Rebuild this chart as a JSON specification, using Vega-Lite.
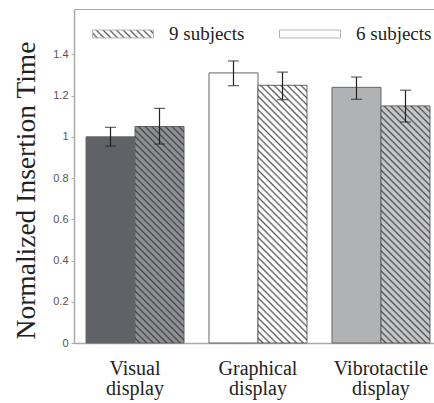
{
  "$schema": "https://vega.github.io/schema/vega-lite/v6.json",
  "width": 360,
  "height": 334,
  "autosize": {"type": "none"},
  "padding": {"left": 74, "top": 9, "right": 0, "bottom": 60},
  "background": "white",
  "params": [
    {"name": "c0", "value": "rgba(51,51,51,0)"},
    {"name": "c1", "value": "rgba(51,51,51,0.8)"},
    {"name": "stops", "expr": "[{offset:0,color:c0},{offset:0.009,color:c0},{offset:0.015,color:c1},{offset:0.02,color:c0},{offset:0.029,color:c0},{offset:0.035,color:c1},{offset:0.04,color:c0},{offset:0.049,color:c0},{offset:0.055,color:c1},{offset:0.06,color:c0},{offset:0.069,color:c0},{offset:0.075,color:c1},{offset:0.08,color:c0},{offset:0.089,color:c0},{offset:0.095,color:c1},{offset:0.1,color:c0},{offset:0.109,color:c0},{offset:0.115,color:c1},{offset:0.12,color:c0},{offset:0.129,color:c0},{offset:0.135,color:c1},{offset:0.14,color:c0},{offset:0.149,color:c0},{offset:0.155,color:c1},{offset:0.16,color:c0},{offset:0.169,color:c0},{offset:0.175,color:c1},{offset:0.18,color:c0},{offset:0.189,color:c0},{offset:0.195,color:c1},{offset:0.2,color:c0},{offset:0.209,color:c0},{offset:0.215,color:c1},{offset:0.22,color:c0},{offset:0.229,color:c0},{offset:0.235,color:c1},{offset:0.24,color:c0},{offset:0.249,color:c0},{offset:0.255,color:c1},{offset:0.26,color:c0},{offset:0.269,color:c0},{offset:0.275,color:c1},{offset:0.28,color:c0},{offset:0.289,color:c0},{offset:0.295,color:c1},{offset:0.3,color:c0},{offset:0.309,color:c0},{offset:0.315,color:c1},{offset:0.32,color:c0},{offset:0.329,color:c0},{offset:0.335,color:c1},{offset:0.34,color:c0},{offset:0.349,color:c0},{offset:0.355,color:c1},{offset:0.36,color:c0},{offset:0.369,color:c0},{offset:0.375,color:c1},{offset:0.38,color:c0},{offset:0.389,color:c0},{offset:0.395,color:c1},{offset:0.4,color:c0},{offset:0.409,color:c0},{offset:0.415,color:c1},{offset:0.42,color:c0},{offset:0.429,color:c0},{offset:0.435,color:c1},{offset:0.44,color:c0},{offset:0.449,color:c0},{offset:0.455,color:c1},{offset:0.46,color:c0},{offset:0.469,color:c0},{offset:0.475,color:c1},{offset:0.48,color:c0},{offset:0.489,color:c0},{offset:0.495,color:c1},{offset:0.5,color:c0},{offset:0.509,color:c0},{offset:0.515,color:c1},{offset:0.52,color:c0},{offset:0.529,color:c0},{offset:0.535,color:c1},{offset:0.54,color:c0},{offset:0.549,color:c0},{offset:0.555,color:c1},{offset:0.56,color:c0},{offset:0.569,color:c0},{offset:0.575,color:c1},{offset:0.58,color:c0},{offset:0.589,color:c0},{offset:0.595,color:c1},{offset:0.6,color:c0},{offset:0.609,color:c0},{offset:0.615,color:c1},{offset:0.62,color:c0},{offset:0.629,color:c0},{offset:0.635,color:c1},{offset:0.64,color:c0},{offset:0.649,color:c0},{offset:0.655,color:c1},{offset:0.66,color:c0},{offset:0.669,color:c0},{offset:0.675,color:c1},{offset:0.68,color:c0},{offset:0.689,color:c0},{offset:0.695,color:c1},{offset:0.7,color:c0},{offset:0.709,color:c0},{offset:0.715,color:c1},{offset:0.72,color:c0},{offset:0.729,color:c0},{offset:0.735,color:c1},{offset:0.74,color:c0},{offset:0.749,color:c0},{offset:0.755,color:c1},{offset:0.76,color:c0},{offset:0.769,color:c0},{offset:0.775,color:c1},{offset:0.78,color:c0},{offset:0.789,color:c0},{offset:0.795,color:c1},{offset:0.8,color:c0},{offset:0.809,color:c0},{offset:0.815,color:c1},{offset:0.82,color:c0},{offset:0.829,color:c0},{offset:0.835,color:c1},{offset:0.84,color:c0},{offset:0.849,color:c0},{offset:0.855,color:c1},{offset:0.86,color:c0},{offset:0.869,color:c0},{offset:0.875,color:c1},{offset:0.88,color:c0},{offset:0.889,color:c0},{offset:0.895,color:c1},{offset:0.9,color:c0},{offset:0.909,color:c0},{offset:0.915,color:c1},{offset:0.92,color:c0},{offset:0.929,color:c0},{offset:0.935,color:c1},{offset:0.94,color:c0},{offset:0.949,color:c0},{offset:0.955,color:c1},{offset:0.96,color:c0},{offset:0.969,color:c0},{offset:0.975,color:c1},{offset:0.98,color:c0},{offset:0.989,color:c0},{offset:0.995,color:c1},{offset:1,color:c0}]"}
  ],
  "data": {
    "values": [
      {"display": "Visual display", "subjects": "6 subjects", "value": 1.0, "lo": 0.955, "hi": 1.046},
      {"display": "Visual display", "subjects": "9 subjects", "value": 1.05, "lo": 0.965, "hi": 1.138},
      {"display": "Graphical display", "subjects": "6 subjects", "value": 1.31, "lo": 1.248, "hi": 1.368},
      {"display": "Graphical display", "subjects": "9 subjects", "value": 1.25, "lo": 1.18, "hi": 1.314},
      {"display": "Vibrotactile display", "subjects": "6 subjects", "value": 1.24, "lo": 1.182, "hi": 1.29},
      {"display": "Vibrotactile display", "subjects": "9 subjects", "value": 1.15, "lo": 1.072, "hi": 1.226}
    ]
  },
  "encoding": {
    "x": {
      "field": "display",
      "type": "nominal",
      "sort": ["Visual display", "Graphical display", "Vibrotactile display"],
      "scale": {"range": [0, 368], "paddingInner": 0.203, "paddingOuter": 0.0976},
      "axis": {
        "title": null,
        "labelExpr": "split(datum.label, ' ')",
        "labelAngle": 0,
        "labelFont": "Liberation Serif",
        "labelFontSize": 20,
        "labelColor": "#222222",
        "labelLineHeight": 20,
        "labelPadding": 15,
        "ticks": false,
        "domainColor": "#aaaaaa",
        "domainWidth": 1.5
      }
    },
    "xOffset": {
      "field": "subjects",
      "type": "nominal",
      "scale": {"domain": ["6 subjects", "9 subjects"], "paddingInner": 0, "paddingOuter": 0}
    }
  },
  "layer": [
    {
      "mark": {"type": "bar", "opacity": 0},
      "encoding": {
        "y": {
          "field": "value",
          "type": "quantitative",
          "title": "Normalized Insertion Time",
          "scale": {"domain": [0, 1.62], "nice": false},
          "axis": {
            "values": [0, 0.2, 0.4, 0.6, 0.8, 1, 1.2, 1.4],
            "format": "~g",
            "grid": false,
            "domainColor": "#aaaaaa",
            "domainWidth": 1.5,
            "tickColor": "#aaaaaa",
            "tickSize": 3,
            "labelFont": "Liberation Sans",
            "labelFontSize": 11,
            "labelColor": "#555555",
            "labelPadding": 3,
            "titleFont": "Liberation Serif",
            "titleFontSize": 27.5,
            "titleFontWeight": "normal",
            "titleColor": "#222222",
            "titlePadding": 12,
            "titleY": 181
          }
        },
        "fill": {
          "field": "subjects",
          "type": "nominal",
          "scale": {
            "domain": ["9 subjects", "6 subjects"],
            "range": [{"expr": "{gradient:'linear',x1:0,y1:1,x2:5.416,y2:0.2986,stops:stops}"}, "#ffffff"]
          },
          "legend": {
            "orient": "none",
            "legendX": 18,
            "legendY": -6,
            "direction": "horizontal",
            "title": null,
            "padding": 0,
            "symbolType": "M-1,-0.13H1V0.13H-1Z",
            "symbolSize": 3721,
            "symbolStrokeWidth": 1,
            "symbolStrokeColor": "#b4b4b4",
            "symbolOpacity": 1,
            "labelFont": "Liberation Serif",
            "labelFontSize": 19,
            "labelColor": "#222222",
            "labelOffset": 15,
            "columnPadding": 32
          }
        }
      }
    },
    {
      "transform": [{"filter": "datum.subjects == '6 subjects'"}],
      "mark": {"type": "bar", "strokeWidth": 1, "stroke": "#666666"},
      "encoding": {
        "y": {"field": "value", "type": "quantitative", "title": "Normalized Insertion Time"},
        "fill": {
          "field": "display",
          "type": "nominal",
          "scale": {"domain": ["Visual display", "Graphical display", "Vibrotactile display"], "range": ["#5f6266", "#ffffff", "#b1b2b4"]},
          "legend": null
        }
      }
    },
    {
      "transform": [{"filter": "datum.subjects == '9 subjects'"}],
      "mark": {"type": "bar", "strokeWidth": 1, "stroke": "#666666"},
      "encoding": {
        "y": {"field": "value", "type": "quantitative", "title": "Normalized Insertion Time"},
        "fill": {
          "field": "display",
          "type": "nominal",
          "scale": {"domain": ["Visual display", "Graphical display", "Vibrotactile display"], "range": ["#8e9094", "#ffffff", "#c6c7c9"]},
          "legend": null
        }
      }
    },
    {
      "transform": [{"filter": "datum.subjects == '9 subjects' && datum.display == 'Visual display'"}],
      "mark": {"type": "bar", "strokeWidth": 0, "fill": {"expr": "({gradient:'linear',x1:0,y1:1,x2:0.334,y2:-0.4759,stops:stops})"}},
      "encoding": {"y": {"field": "value", "type": "quantitative", "title": "Normalized Insertion Time"}}
    },
    {
      "transform": [{"filter": "datum.subjects == '9 subjects' && datum.display == 'Graphical display'"}],
      "mark": {"type": "bar", "strokeWidth": 0, "fill": {"expr": "({gradient:'linear',x1:0,y1:1,x2:0.2392,y2:-0.2579,stops:stops})"}},
      "encoding": {"y": {"field": "value", "type": "quantitative", "title": "Normalized Insertion Time"}}
    },
    {
      "transform": [{"filter": "datum.subjects == '9 subjects' && datum.display == 'Vibrotactile display'"}],
      "mark": {"type": "bar", "strokeWidth": 0, "fill": {"expr": "({gradient:'linear',x1:0,y1:1,x2:0.2808,y2:-0.3586,stops:stops})"}},
      "encoding": {"y": {"field": "value", "type": "quantitative", "title": "Normalized Insertion Time"}}
    },
    {
      "mark": {"type": "rule", "color": "#222222", "strokeWidth": 1.2},
      "encoding": {
        "y": {"field": "lo", "type": "quantitative", "title": "Normalized Insertion Time"},
        "y2": {"field": "hi"}
      }
    },
    {
      "mark": {"type": "tick", "color": "#222222", "size": 11, "thickness": 1.2, "orient": "horizontal"},
      "encoding": {"y": {"field": "lo", "type": "quantitative", "title": "Normalized Insertion Time"}}
    },
    {
      "mark": {"type": "tick", "color": "#222222", "size": 11, "thickness": 1.2, "orient": "horizontal"},
      "encoding": {"y": {"field": "hi", "type": "quantitative", "title": "Normalized Insertion Time"}}
    }
  ],
  "resolve": {"scale": {"fill": "independent"}},
  "config": {
    "view": {"stroke": "#aaaaaa", "strokeWidth": 1},
    "font": "Liberation Sans"
  }
}
